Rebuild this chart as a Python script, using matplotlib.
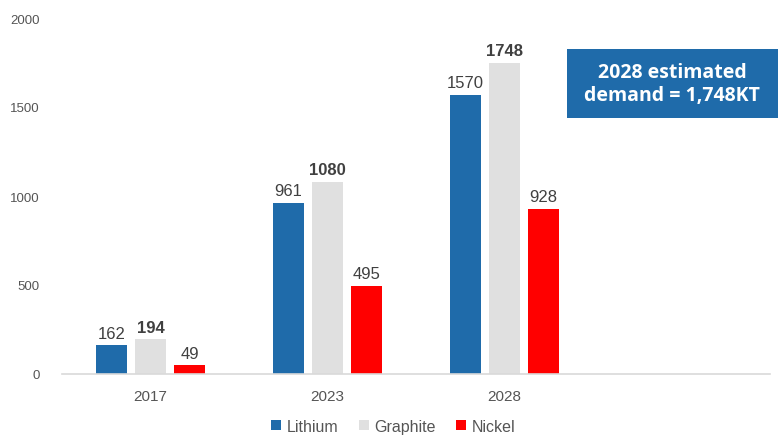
import numpy as np
import matplotlib
matplotlib.use("Agg")
import matplotlib.pyplot as plt
from matplotlib.patches import Rectangle

years = ["2017", "2023", "2028"]
lithium = [162, 961, 1570]
graphite = [194, 1080, 1748]
nickel = [49, 495, 928]
series_names = ["Lithium", "Graphite", "Nickel"]
colors = ["#1F6BAA", "#E0E0E0", "#FF0000"]
yticks = [0, 500, 1000, 1500, 2000]
box_text = "2028 estimated\ndemand = 1,748KT"

plt.rcParams['font.family'] = ['Liberation Sans', 'DejaVu Sans']

fig = plt.figure(figsize=(7.79, 4.39), dpi=100)
ax = fig.add_axes([62/779, 64/439, 708/779, 356/439])

x = np.arange(len(years))
w = 0.175
step = 0.22
for i, (name, vals, c) in enumerate(zip(series_names, [lithium, graphite, nickel], colors)):
    pos = x + (i - 1) * step
    ax.bar(pos, vals, width=w, color=c, label=name, zorder=2)
    for p, v in zip(pos, vals):
        ax.text(p, v + 25, str(v), ha="center", va="bottom", fontsize=12,
                color="#404040", fontweight="bold" if name == "Graphite" else "normal")

ax.set_xlim(-0.5, 3.5)
ax.set_ylim(0, 2000)
ax.set_xticks(x)
ax.set_xticklabels(years, fontsize=11, color="#555555")
ax.set_yticks(yticks)
ax.set_yticklabels([str(t) for t in yticks], fontsize=9.5, color="#555555")
ax.tick_params(axis="both", length=0)
ax.tick_params(axis="y", pad=16)
ax.tick_params(axis="x", pad=11)
for s in ["top", "right", "left"]:
    ax.spines[s].set_visible(False)
ax.spines["bottom"].set_color("#D9D9D9")
ax.spines["bottom"].set_linewidth(1.2)

fig.legend(loc="center", bbox_to_anchor=(0.505, 0.027), ncol=3, frameon=False,
           fontsize=11.5, handlelength=0.6, handleheight=0.6, handletextpad=0.35,
           columnspacing=1.3, labelcolor="#555555")

# annotation box
fig.patches.append(Rectangle((567/779, 1 - 119/439), 211/779, 69/439,
                             transform=fig.transFigure, facecolor="#1F6BAA",
                             edgecolor="none"))
fig.text(672/779, 1 - 85/439, box_text, ha="center", va="center", fontsize=14,
         fontweight="bold", color="white", family=["Open Sans", "DejaVu Sans"],
         linespacing=1.2)

fig.savefig("out.png", dpi=100)
